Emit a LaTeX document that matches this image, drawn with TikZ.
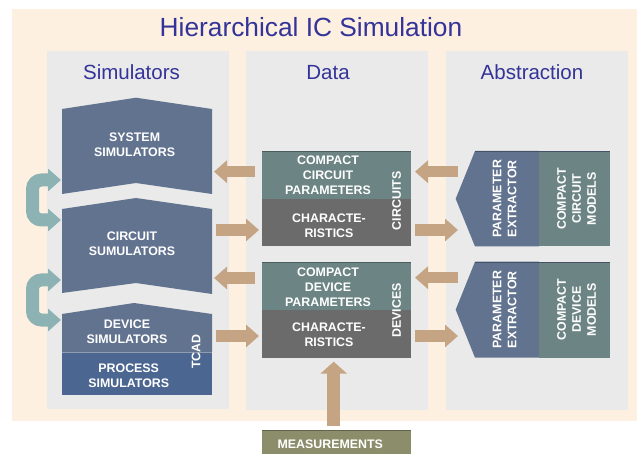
\documentclass[tikz,border=0pt]{standalone}
\usepackage{fontspec}
\setmainfont{Liberation Sans}
\usetikzlibrary{arrows.meta}
\definecolor{cream}{HTML}{FDF0E0}
\definecolor{panel}{HTML}{EAEAEA}
\definecolor{titleblue}{HTML}{333399}
\definecolor{simblue}{HTML}{62738F}
\definecolor{procblue}{HTML}{4B6690}
\definecolor{tealbox}{HTML}{6C8483}
\definecolor{chargray}{HTML}{6B6B6B}
\definecolor{olive}{HTML}{8C8D6B}
\definecolor{tanarr}{HTML}{C4A483}
\definecolor{loopteal}{HTML}{8DB2B4}
\begin{document}
\begin{tikzpicture}[x=1pt,y=-1pt,
  boxtext/.style={text=white,font=\fontsize{12.4}{15}\selectfont\bfseries,align=center,inner sep=0pt},
  header/.style={text=titleblue,font=\fontsize{20.5}{24}\selectfont,anchor=base,inner sep=0pt},
  tanarrow/.style={draw=tanarr,line width=11.5pt,-{Triangle[length=13pt,width=22pt]}},
  uparrow/.style={draw=tanarr,line width=12.7pt,-{Triangle[length=12pt,width=26pt]}},
  looparrow/.style={draw=loopteal,line width=13pt,rounded corners=9pt,
    {Triangle[length=13pt,width=22pt]}-{Triangle[length=13pt,width=22pt]}},
  edge/.style={line width=1pt}]
\useasboundingbox (0,0) rectangle (637,454);
% background and panels
\fill[cream] (12,9) rectangle (637,421);
\fill[panel] (47,51) rectangle (229,409);
\fill[panel] (246,51) rectangle (428,410);
\fill[panel] (446,51) rectangle (628,410);
% headers
\node[header,font=\fontsize{26.3}{30}\selectfont] (title) at (311,37) {Hierarchical IC Simulation};
\node[header] (hsim) at (131.5,79.5) {Simulators};
\node[header] (hdata) at (328,79.5) {Data};
\node[header] (habs) at (532,79.5) {Abstraction};
% simulators
\fill[simblue] (62,109) -- (136,97.7) -- (212,109) -- (212,194) -- (136,183) -- (62,194) -- cycle;
\fill[simblue] (62,209) -- (136,198) -- (212,209) -- (212,294) -- (136,283) -- (62,293) -- cycle;
\fill[simblue] (62,314) -- (134,303) -- (212,314) -- (212,352.7) -- (62,352.7) -- cycle;
\fill[procblue] (62,352.7) rectangle (212,395);
\node[boxtext] (sys) at (134.6,144.5) {SYSTEM\\SIMULATORS};
\node[boxtext] (cir) at (132,244) {CIRCUIT\\SUMULATORS};
\node[boxtext] (dev) at (127,332) {DEVICE\\SIMULATORS};
\node[boxtext] (proc) at (128.7,376) {PROCESS\\SIMULATORS};
\node[boxtext,rotate=90] (tcad) at (196,351.7) {TCAD};
% data
\fill[tealbox] (262,151) rectangle (411,199.5);
\fill[chargray] (262,199.5) rectangle (411,246.5);
\fill[tealbox] (262,261.7) rectangle (411,310);
\fill[chargray] (262,310) rectangle (411,357.7);
\draw[edge,tealbox!70!black] (262,151.5) -- (411,151.5);
\draw[edge,tealbox!70!black] (262,262.2) -- (411,262.2);
\node[boxtext] (ccp) at (328,175.5) {COMPACT\\CIRCUIT\\PARAMETERS};
\node[boxtext] (cch) at (329,225.5) {CHARACTE-\\RISTICS};
\node[boxtext,rotate=90] (lcir) at (396.7,200.8) {CIRCUITS};
\node[boxtext] (dcp) at (328,287) {COMPACT\\DEVICE\\PARAMETERS};
\node[boxtext] (dch) at (329,335) {CHARACTE-\\RISTICS};
\node[boxtext,rotate=90] (ldev) at (396.7,310.5) {DEVICES};
% measurements
\fill[olive] (262,430) rectangle (411,460);
\draw[edge,olive!70!black] (262,430.5) -- (411,430.5);
\node[boxtext] (meas) at (330.3,444.3) {MEASUREMENTS};
% abstraction
\fill[simblue] (475,151) -- (539,151) -- (539,246.5) -- (475,246.5) -- (455.7,198.8) -- cycle;
\fill[tealbox] (539,151) rectangle (610,246.5);
\fill[simblue] (475,261.7) -- (539,261.7) -- (539,357.7) -- (475,357.7) -- (455.7,309.7) -- cycle;
\fill[tealbox] (539,261.7) rectangle (610,357.7);
\draw[edge,simblue!70!black] (475,151.5) -- (610,151.5);
\draw[edge,simblue!70!black] (475,262.2) -- (610,262.2);
\node[boxtext,rotate=90] (pec) at (504.7,198.8) {PARAMETER\\EXTRACTOR};
\node[boxtext,rotate=90] (ccm) at (576.7,198.8) {COMPACT\\CIRCUIT\\MODELS};
\node[boxtext,rotate=90] (ped) at (504.7,309.7) {PARAMETER\\EXTRACTOR};
\node[boxtext,rotate=90] (dcm) at (576.7,309.7) {COMPACT\\DEVICE\\MODELS};
% arrow end points
\coordinate (a1s) at (255,171.7); \coordinate (a1e) at (214,171.7);
\coordinate (a2s) at (216,230);   \coordinate (a2e) at (259,230);
\coordinate (a3s) at (255,278);   \coordinate (a3e) at (214,278);
\coordinate (a4s) at (216,336);   \coordinate (a4e) at (259,336);
\coordinate (a5s) at (458,171.7); \coordinate (a5e) at (415,171.7);
\coordinate (a6s) at (415,230);   \coordinate (a6e) at (458,230);
\coordinate (a7s) at (458,277.7); \coordinate (a7e) at (415,277.7);
\coordinate (a8s) at (415,336);   \coordinate (a8e) at (458,336);
\coordinate (ups) at (333.7,426); \coordinate (upe) at (333.7,361.7);
\draw[tanarrow] (a1s) -- (a1e);
\draw[tanarrow] (a2s) -- (a2e);
\draw[tanarrow] (a3s) -- (a3e);
\draw[tanarrow] (a4s) -- (a4e);
\draw[tanarrow] (a5s) -- (a5e);
\draw[tanarrow] (a6s) -- (a6e);
\draw[tanarrow] (a7s) -- (a7e);
\draw[tanarrow] (a8s) -- (a8e);
\draw[uparrow] (ups) -- (upe);
% loop arrows
\coordinate (l1a) at (61,180); \coordinate (l1b) at (61,220);
\coordinate (l2a) at (61,280); \coordinate (l2b) at (61,320);
\draw[looparrow] (l1a) -- (32.5,180) -- (32.5,220) -- (l1b);
\draw[looparrow] (l2a) -- (32.5,280) -- (32.5,320) -- (l2b);
\end{tikzpicture}
\end{document}
